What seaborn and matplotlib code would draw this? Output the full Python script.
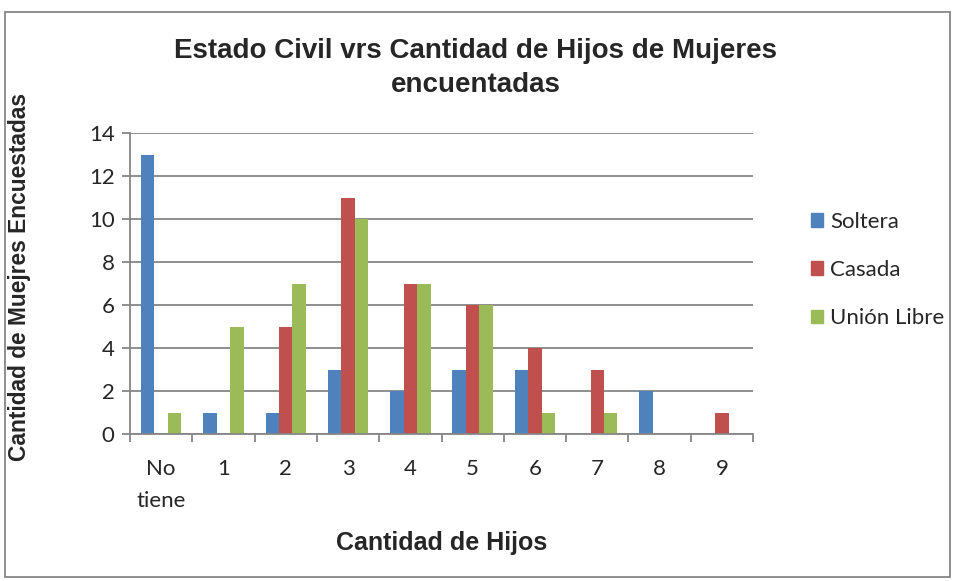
import matplotlib
matplotlib.use("Agg")
import matplotlib.pyplot as plt
import matplotlib.patches as mpatches
import seaborn as sns
import pandas as pd
import numpy as np

categories = ["No\ntiene", "1", "2", "3", "4", "5", "6", "7", "8", "9"]
soltera = [13, 1, 1, 3, 2, 3, 3, 0, 2, 0]
casada = [0, 0, 5, 11, 7, 6, 4, 3, 0, 1]
union_libre = [1, 5, 7, 10, 7, 6, 1, 1, 0, 0]
series_names = ["Soltera", "Casada", "Unión Libre"]
colors = ["#4F81BD", "#C0504D", "#9BBB59"]

rows = []
for name, vals in zip(series_names, [soltera, casada, union_libre]):
    for c, v in zip(categories, vals):
        rows.append({"cat": c, "serie": name, "val": v})
df = pd.DataFrame(rows)

sns.set_theme(style="white")
plt.rcParams['font.family'] = ['Liberation Sans', 'DejaVu Sans']

W, H = 956, 581
fig = plt.figure(figsize=(W / 100, H / 100), dpi=100)
ax = fig.add_axes([130 / W, 1 - 434 / H, (753 - 130) / W, (434 - 133) / H])

sns.barplot(data=df, x="cat", y="val", hue="serie", order=categories,
            hue_order=series_names, palette=colors, width=0.65, gap=0,
            saturation=1, ax=ax, legend=False, edgecolor="none", linewidth=0)

ax.set_ylim(0, 14)
ax.set_xlim(-0.5, len(categories) - 0.5)
ax.set_yticks(np.arange(0, 15, 2))
ax.yaxis.grid(True, color="#868686", linewidth=1.3)
ax.set_axisbelow(True)
for s in ["top", "right"]:
    ax.spines[s].set_visible(False)
for s in ["left", "bottom"]:
    ax.spines[s].set_color("#868686")
    ax.spines[s].set_linewidth(1.3)

tick_font = ['Lato', 'DejaVu Sans']
tick_size = 16
ax.set_xticks(range(len(categories)))
ax.set_xticklabels(categories, fontsize=tick_size, family=tick_font,
                   linespacing=1.75, va="top")
ax.tick_params(axis="x", which="major", length=0, pad=18)
ax.set_xticks(np.arange(-0.5, len(categories), 1), minor=True)
ax.tick_params(axis="x", which="minor", length=6, color="#868686", width=1.3,
               bottom=True, direction="out")
ax.tick_params(axis="y", length=6, color="#868686", width=1.3, left=True,
               direction="out", pad=5)
for lbl in ax.get_yticklabels():
    lbl.set_fontsize(tick_size)
    lbl.set_family(tick_font)

ax.set_xlabel("Cantidad de Hijos", fontsize=18, fontweight="bold")
ax.set_ylabel("Cantidad de Muejres Encuestadas", fontsize=16.4, fontweight="bold")
ax.xaxis.set_label_coords(0.5, -(543 - 434) / (434 - 133), transform=ax.transAxes)
ax.xaxis.label.set_va("center")
ax.yaxis.set_label_coords(-(130 - 20) / (753 - 130), 0.52)
ax.yaxis.label.set_va("center")

fig.text(476 / W, 1 - 68 / H,
         "Estado Civil vrs Cantidad de Hijos de Mujeres\nencuentadas",
         ha="center", va="center", fontsize=20, fontweight="bold", linespacing=1.35)

handles = [mpatches.Patch(color=c, label=n) for c, n in zip(colors, series_names)]
fig.legend(handles=handles, loc="center left",
           bbox_to_anchor=(811 / W, 1 - 270 / H),
           frameon=False, prop={"family": tick_font, "size": tick_size},
           handlelength=0.55, handleheight=0.55, handletextpad=0.3,
           labelspacing=1.27, borderaxespad=0, borderpad=0)

fig.patches.append(mpatches.Rectangle((5 / W, 4 / H), 945 / W, 565 / H,
                                      transform=fig.transFigure, fill=False,
                                      edgecolor="#868686", linewidth=1.3))

fig.savefig("out.png", dpi=100, facecolor="white")
